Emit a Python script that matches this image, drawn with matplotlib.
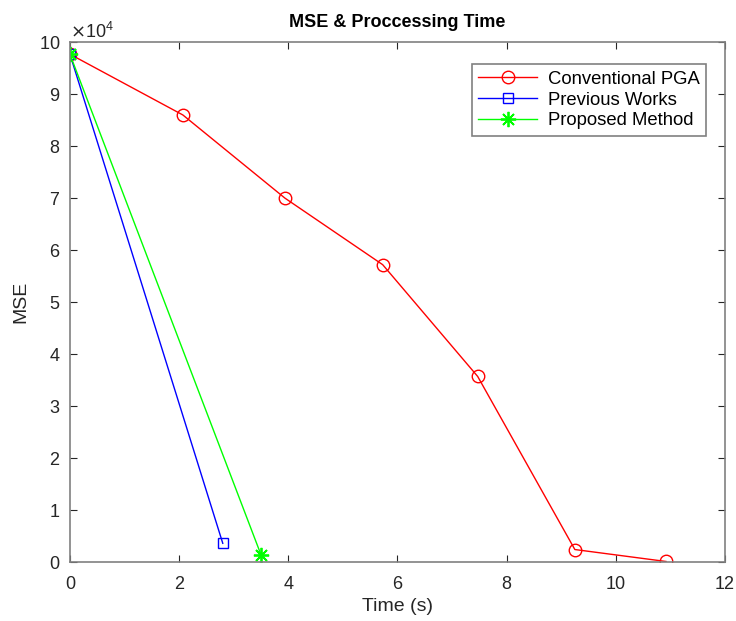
"""Recreate the MSE vs processing time chart."""

# -- Imports -----------------------------------------------------------------
import matplotlib
matplotlib.use('Agg')
import matplotlib.pyplot as plt

# -- Data --------------------------------------------------------------------
conv_time = [0.0, 2.07, 3.94, 5.73, 7.47, 9.25, 10.92]
conv_mse = [97700, 86000, 70000, 57200, 35700, 2400, 100]

prev_time = [0.0, 2.80]
prev_mse = [97700, 3600]

prop_time = [0.0, 3.50]
prop_mse = [97700, 1400]

labels = ['Conventional PGA', 'Previous Works', 'Proposed Method']

# -- Figure ------------------------------------------------------------------
plt.rcParams['font.family'] = ['Liberation Sans', 'DejaVu Sans']
axis_gray = '#262626'

fig = plt.figure(figsize=(7.36, 6.21), dpi=100)
ax = fig.add_axes([0.095, 0.095, 0.89, 0.837])

ax.plot(conv_time, conv_mse, color='red', lw=1, marker='o', ms=9,
        mfc='none', mec='red', label=labels[0])
ax.plot(prev_time, prev_mse, color='blue', lw=1, marker='s', ms=7,
        mfc='none', mec='blue', label=labels[1])
ax.plot(prop_time, prop_mse, color='#00ff00', lw=1, marker=(8, 2, 0),
        ms=11, mew=1.3, mfc='#00ff00', mec='#00ff00', label=labels[2])

ax.set_xlim(0, 12)
ax.set_ylim(0, 100000)
ax.set_xticks(range(0, 13, 2))
ax.set_yticks(range(0, 100001, 10000))
ax.ticklabel_format(axis='y', style='sci', scilimits=(4, 4), useMathText=True)

ax.tick_params(direction='in', top=True, right=True, length=5,
               labelsize=13, colors=axis_gray, width=0.8)
ax.tick_params(axis='x', pad=10)
ax.tick_params(axis='y', pad=7)
for spine in ax.spines.values():
    spine.set_color('#808080')
    spine.set_linewidth(1.2)
ax.yaxis.get_offset_text().set_fontsize(13)
ax.yaxis.get_offset_text().set_color(axis_gray)

ax.set_xlabel('Time (s)', fontsize=14, color=axis_gray, labelpad=4)
ax.set_ylabel('MSE', fontsize=14, color=axis_gray, labelpad=7)
ax.set_title('MSE & Proccessing Time', fontsize=13, weight='bold', pad=11)

leg = ax.legend(loc='upper right', fontsize=13.3, fancybox=False,
                framealpha=1, edgecolor='#808080', borderpad=0.35,
                labelspacing=0.2, handlelength=3.2, handletextpad=0.55,
                bbox_to_anchor=(0.985, 0.975))
leg.get_frame().set_linewidth(1.2)

fig.savefig('out.png', dpi=100)
